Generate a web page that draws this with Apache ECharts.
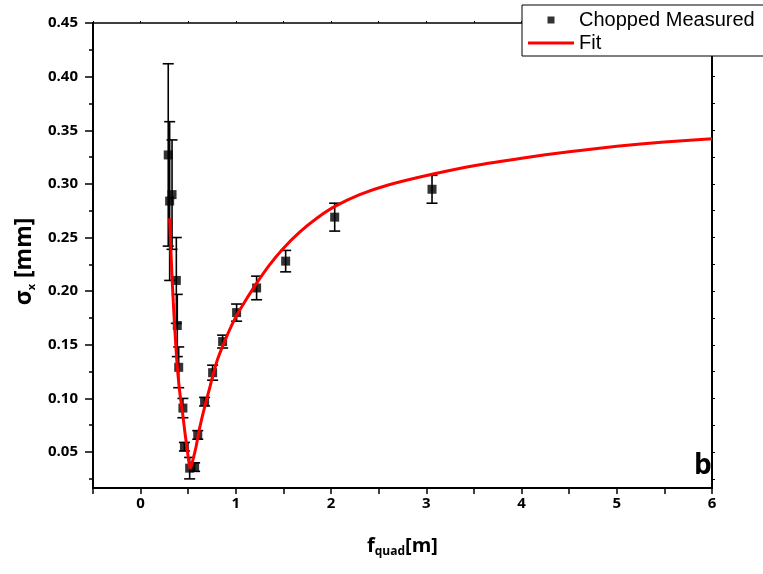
<!DOCTYPE html>
<html>
<head>
<meta charset="utf-8">
<script src="https://cdn.jsdelivr.net/npm/echarts@6/dist/echarts.min.js"></script>
<style>
  html, body { margin: 0; padding: 0; background: #fff; }
  #chart { width: 763px; height: 574px; }
</style>
</head>
<body>
<div id="chart"></div>
<script>
// Measured beam size versus quadrupole focal length
const measX   = [0.29, 0.33, 0.305, 0.375, 0.385, 0.40, 0.444, 0.46, 0.515, 0.567, 0.60, 0.672, 0.756, 0.861, 1.008, 1.218, 1.523, 2.038, 3.06];
const measY   = [0.327, 0.290, 0.284, 0.210, 0.168, 0.129, 0.091, 0.055, 0.035, 0.036, 0.066, 0.097, 0.124, 0.153, 0.180, 0.203, 0.228, 0.269, 0.295];
const measErr = [0.085, 0.051, 0.074, 0.040, 0.029, 0.019, 0.009, 0.004, 0.010, 0.004, 0.004, 0.004, 0.007, 0.006, 0.008, 0.011, 0.010, 0.013, 0.013];

// Fitted curve, sampled along f
const fitX = [0.305, 0.315, 0.329, 0.343, 0.357, 0.38, 0.40, 0.417, 0.44, 0.462, 0.49, 0.505, 0.52, 0.535, 0.55, 0.58, 0.62, 0.672, 0.72, 0.76, 0.81, 0.9, 1.0, 1.1, 1.2, 1.35, 1.5, 1.67, 1.85, 2.04, 2.3, 2.6, 3.06, 3.5, 4.0, 4.5, 5.0, 5.5, 6.0];
const fitY = [0.268, 0.245, 0.215, 0.190, 0.168, 0.135, 0.115, 0.1016, 0.087, 0.0705, 0.052, 0.042, 0.035, 0.038, 0.043, 0.054, 0.0725, 0.092, 0.108, 0.122, 0.137, 0.157, 0.176, 0.191, 0.205, 0.224, 0.240, 0.255, 0.268, 0.279, 0.290, 0.299, 0.309, 0.317, 0.324, 0.330, 0.335, 0.339, 0.342];

// Axis ticks and labels
const xRange = [-0.5, 6];
const yRange = [0.0165, 0.45];
const yLabelValues = [0.05, 0.10, 0.15, 0.20, 0.25, 0.30, 0.35, 0.40, 0.45];
const yMinorValues = [0.025, 0.075, 0.125, 0.175, 0.225, 0.275, 0.325, 0.375, 0.425];
const yAllTicks = [0.025, 0.05, 0.075, 0.10, 0.125, 0.15, 0.175, 0.20, 0.225, 0.25, 0.275, 0.30, 0.325, 0.35, 0.375, 0.40, 0.425, 0.45];

const seriesNames = ['Chopped Measured', 'Fit'];

const measData = measX.map((x, i) => [x, measY[i], measErr[i]]);
const fitData = fitX.map((x, i) => [x, fitY[i]]);

const labelFont = { color: '#000', fontFamily: 'Open Sans', fontWeight: 'bold', fontSize: 15 };
const nameRich = {
  n: { fontFamily: 'Open Sans', fontWeight: 'bold', fontSize: 20, color: '#000', lineHeight: 24 },
  s: { fontFamily: 'Open Sans', fontWeight: 'bold', fontSize: 12, color: '#000', lineHeight: 12, padding: [18, 0, 0, 0], verticalAlign: 'bottom' },
  ny: { fontFamily: 'Open Sans', fontWeight: 'bold', fontSize: 23, color: '#000', lineHeight: 26 },
  sx: { fontFamily: 'Open Sans', fontWeight: 'bold', fontSize: 11, color: '#000', lineHeight: 11, padding: [14, 0, 0, 0], verticalAlign: 'bottom' }
};

const chart = echarts.init(document.getElementById('chart'), null, { renderer: 'canvas' });

chart.setOption({
  animation: false,
  backgroundColor: '#fff',
  grid: { left: 93, right: 51, top: 23, bottom: 86, containLabel: false },
  legend: {
    left: 522, top: 5,
    orient: 'vertical',
    padding: [5, 20, 3, 6],
    itemGap: 3,
    itemWidth: 46, itemHeight: 12,
    itemTextGap: 6,
    backgroundColor: '#fff',
    borderColor: '#000', borderWidth: 1, borderRadius: 0,
    textStyle: { fontFamily: 'Liberation Sans', fontSize: 20, color: '#000', lineHeight: 20 },
    data: [
      { name: seriesNames[0], icon: 'path://M0,0L0.01,0L0,0.01Z M19.5,2.5L26.5,2.5L26.5,9.5L19.5,9.5Z M46,12L45.99,12L46,11.99Z' },
      { name: seriesNames[1], icon: 'path://M0,0L0.01,0L0,0.01Z M0,4.5L46,4.5L46,7.5L0,7.5Z M46,12L45.99,12L46,11.99Z' }
    ],
    z: 20
  },
  xAxis: [
    {
      type: 'value', position: 'bottom',
      min: xRange[0], max: xRange[1], interval: 0.5,
      name: '{n|f}{s|quad}{n|[m]}',
      nameLocation: 'middle', nameGap: 46,
      nameTextStyle: { rich: nameRich },
      axisLine: { show: true, onZero: false, lineStyle: { color: '#000', width: 2 } },
      axisTick: { show: true, inside: false, length: 6, lineStyle: { color: '#000', width: 1.5 } },
      axisLabel: Object.assign({
        margin: 8,
        formatter: v => (Math.abs(v - Math.round(v)) < 1e-9 ? String(Math.round(v)) : '')
      }, labelFont),
      splitLine: { show: false }
    },
    {
      type: 'value', position: 'top',
      min: xRange[0], max: xRange[1], interval: 0.5,
      axisLine: { show: true, onZero: false, lineStyle: { color: '#000', width: 1.5 } },
      axisTick: { show: true, inside: false, length: 2, lineStyle: { color: '#000', width: 1 } },
      axisLabel: { show: false },
      splitLine: { show: false }
    }
  ],
  yAxis: [
    {
      type: 'value', position: 'left',
      min: yRange[0], max: yRange[1],
      name: '{ny|σ}{sx|x}{ny| [mm]}',
      nameLocation: 'middle', nameRotate: 90, nameGap: 51,
      nameTextStyle: { rich: nameRich, padding: [0, 12, 0, 0] },
      axisLine: { show: true, onZero: false, lineStyle: { color: '#000', width: 2 } },
      axisTick: { show: true, inside: false, length: 8, customValues: yLabelValues, lineStyle: { color: '#000', width: 1.5 } },
      axisLabel: Object.assign({ margin: 15, customValues: yLabelValues, formatter: v => v.toFixed(2) }, labelFont),
      splitLine: { show: false }
    },
    {
      type: 'value', position: 'left', offset: 0,
      min: yRange[0], max: yRange[1],
      axisLine: { show: false, onZero: false },
      axisTick: { show: true, inside: false, length: 4, customValues: yMinorValues, lineStyle: { color: '#000', width: 1.5 } },
      axisLabel: { show: false },
      splitLine: { show: false }
    },
    {
      type: 'value', position: 'right',
      min: yRange[0], max: yRange[1],
      axisLine: { show: true, onZero: false, lineStyle: { color: '#000', width: 2 } },
      axisTick: { show: true, inside: false, length: 3, customValues: yAllTicks, lineStyle: { color: '#000', width: 1 } },
      axisLabel: { show: false },
      splitLine: { show: false }
    }
  ],
  graphic: [
    {
      type: 'text', left: 694, top: 452, z: 10,
      style: { text: 'b', fontFamily: 'Open Sans', fontWeight: 'bold', fontSize: 28, fill: '#000' }
    }
  ],
  series: [
    {
      name: seriesNames[0] + ' error',
      type: 'custom',
      xAxisIndex: 0, yAxisIndex: 0,
      data: measData,
      encode: { x: 0, y: 1 },
      z: 2,
      silent: true,
      renderItem: function (params, api) {
        const x = api.value(0), y = api.value(1), e = api.value(2);
        const top = api.coord([x, y + e]);
        const bot = api.coord([x, y - e]);
        const hw = 5.5;
        const st = { stroke: '#000', lineWidth: 1.6 };
        return {
          type: 'group',
          children: [
            { type: 'line', shape: { x1: top[0], y1: top[1], x2: bot[0], y2: bot[1] }, style: st },
            { type: 'line', shape: { x1: top[0] - hw, y1: top[1], x2: top[0] + hw, y2: top[1] }, style: st },
            { type: 'line', shape: { x1: bot[0] - hw, y1: bot[1], x2: bot[0] + hw, y2: bot[1] }, style: st }
          ]
        };
      }
    },
    {
      name: seriesNames[0],
      type: 'scatter',
      xAxisIndex: 0, yAxisIndex: 0,
      data: measData.map(d => [d[0], d[1]]),
      symbol: 'rect',
      symbolSize: [9, 9],
      itemStyle: { color: '#000' },
      z: 3
    },
    {
      name: seriesNames[1],
      type: 'line',
      xAxisIndex: 0, yAxisIndex: 0,
      data: fitData,
      showSymbol: false,
      symbol: 'none',
      smooth: 0.25,
      lineStyle: { color: '#ff0000', width: 3 },
      itemStyle: { color: '#ff0000' },
      z: 4
    }
  ]
});
</script>
</body>
</html>
